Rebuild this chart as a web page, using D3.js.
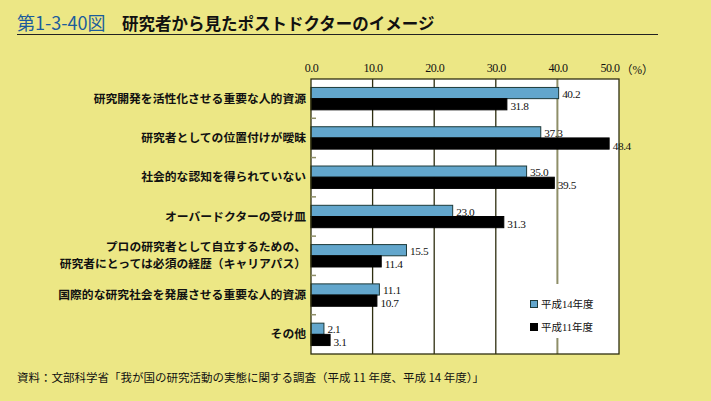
<!DOCTYPE html>
<html><head><meta charset="utf-8">
<script src="https://cdn.jsdelivr.net/npm/d3@7/dist/d3.min.js"></script>
<style>
html,body{margin:0;padding:0;background:#ece785;}
svg{display:block;}
</style></head>
<body>
<svg id="c" width="711" height="401"></svg>
<script>
const categories = [
  ["研究開発を活性化させる重要な人的資源"],
  ["研究者としての位置付けが曖昧"],
  ["社会的な認知を得られていない"],
  ["オーバードクターの受け皿"],
  ["プロの研究者として自立するための、","研究者にとっては必須の経歴（キャリアパス）"],
  ["国際的な研究社会を発展させる重要な人的資源"],
  ["その他"]
];
const seriesNames = ["平成14年度","平成11年度"];
const valuesH14 = [40.2, 37.3, 35.0, 23.0, 15.5, 11.1, 2.1];
const valuesH11 = [31.8, 48.4, 39.5, 31.3, 11.4, 10.7, 3.1];
const tickValues = [0,10,20,30,40,50];
const colors = ["#62a6cc","#000000"];

(function(){
const svg = d3.select("#c");
const W=711,H=401;
svg.append("rect").attr("width",W).attr("height",H).attr("fill","#ece785");

// title
svg.append("text").attr("x",17).attr("y",30).attr("fill","#1b5c9c")
  .attr("font-family","'Noto Sans CJK JP','Noto Sans',sans-serif").attr("font-size",18)
  .text("第1-3-40図");
svg.append("text").attr("x",122).attr("y",30).attr("fill","#111")
  .attr("font-family","'Noto Sans CJK JP',sans-serif").attr("font-weight","bold").attr("font-size",16.5)
  .text("研究者から見たポストドクターのイメージ");
svg.append("line").attr("x1",17).attr("x2",658).attr("y1",34.5).attr("y2",34.5).attr("stroke","#222").attr("stroke-width",1.2);

const pL=311,pR=619,pT=79,pB=354;
const x = d3.scaleLinear().domain([0,50]).range([pL,pR]);
const y = d3.scaleBand().domain(d3.range(categories.length)).range([pT,pB]).paddingInner(0.43).paddingOuter(0.215);
const ys = d3.scaleBand().domain(seriesNames).range([0,y.bandwidth()]);

svg.append("rect").attr("x",pL).attr("y",pT).attr("width",pR-pL).attr("height",pB-pT).attr("fill","#fff");

tickValues.slice(1,-1).forEach(t=>{
  svg.append("line").attr("x1",x(t)).attr("x2",x(t)).attr("y1",pT).attr("y2",pB)
    .attr("stroke", t===40?"#8e8e68":"#2e2e10").attr("stroke-width", t===40?2:1.3);
});

const lg = svg.append("g");
lg.append("rect").attr("x",524).attr("y",284).attr("width",76).attr("height",54).attr("fill","#fff");
seriesNames.forEach((s,i)=>{
  lg.append("rect").attr("x",530.5).attr("y",300.5+i*23).attr("width",7).attr("height",7)
    .attr("fill",colors[i]).attr("stroke",i===0?"#1d3a3a":"#000").attr("stroke-width",1);
  lg.append("text").attr("x",541).attr("y",304+i*23).attr("dy","0.35em")
    .attr("font-family","'Liberation Serif','Noto Sans CJK JP',serif").attr("font-size",10.5).attr("fill","#111")
    .text(s);
});

const data = categories.map((c,i)=>({i, vals:[valuesH14[i],valuesH11[i]]}));
const g = svg.append("g");
data.forEach(d=>{
  d.vals.forEach((v,k)=>{
    const yy = y(d.i)+ys(seriesNames[k]);
    g.append("rect").attr("x",x(0)).attr("y",yy).attr("width",x(v)-x(0)).attr("height",ys.bandwidth())
      .attr("fill",colors[k]).attr("stroke",k===0?"#1d3a3a":"#000").attr("stroke-width",1);
    g.append("text").attr("x",x(v)+3.5).attr("y",yy+ys.bandwidth()/2+(k===0?0.7:2.2)).attr("dy","0.35em")
      .attr("font-family","'Liberation Serif',serif").attr("font-size",11.3).attr("fill","#111")
      .attr("letter-spacing",-0.4)
      .text(v.toFixed(1));
  });
});

svg.append("rect").attr("x",pL).attr("y",pT).attr("width",pR-pL).attr("height",pB-pT)
  .attr("fill","none").attr("stroke","#2e2e10").attr("stroke-width",1.3);

for(let i=1;i<categories.length;i++){
  const yb = y(i) - y.step()*y.paddingInner()/2;
  svg.append("line").attr("x1",pL).attr("x2",pL+5).attr("y1",yb).attr("y2",yb).attr("stroke","#8e8e68").attr("stroke-width",1.5);
}

const ax = d3.axisTop(x).tickValues(tickValues).tickSize(0).tickFormat(d3.format(".1f"));
const axg = svg.append("g").attr("transform",`translate(0,${pT-4})`).call(ax);
axg.select(".domain").remove();
axg.selectAll("text").attr("font-family","'Liberation Serif',serif").attr("font-size",12).attr("fill","#111").attr("letter-spacing",-0.5);
axg.selectAll(".tick").filter(d=>d===50).select("text").attr("text-anchor","end").attr("x",0);
svg.append("text").attr("x",621).attr("y",pT-5).attr("font-family","'Liberation Serif','Noto Sans CJK JP',serif")
  .attr("font-size",11.5).attr("fill","#111").text("（%）");

categories.forEach((c,i)=>{
  const cy = y(i)+y.bandwidth()/2;
  c.forEach((line,j)=>{
    svg.append("text").attr("x",306).attr("text-anchor","end")
      .attr("font-family","'Noto Sans CJK JP',sans-serif").attr("font-size",11.8).attr("font-weight","bold").attr("fill","#111")
      .attr("y",cy + (j-(c.length-1)/2)*17).attr("dy","0.35em").text(line);
  });
});

svg.append("text").attr("x",17).attr("y",382).attr("font-family","'Noto Sans CJK JP',sans-serif")
  .attr("font-size",11.5).attr("fill","#111")
  .text("資料：文部科学省「我が国の研究活動の実態に関する調査（平成 11 年度、平成 14 年度）」");
})();
</script>
</body></html>
